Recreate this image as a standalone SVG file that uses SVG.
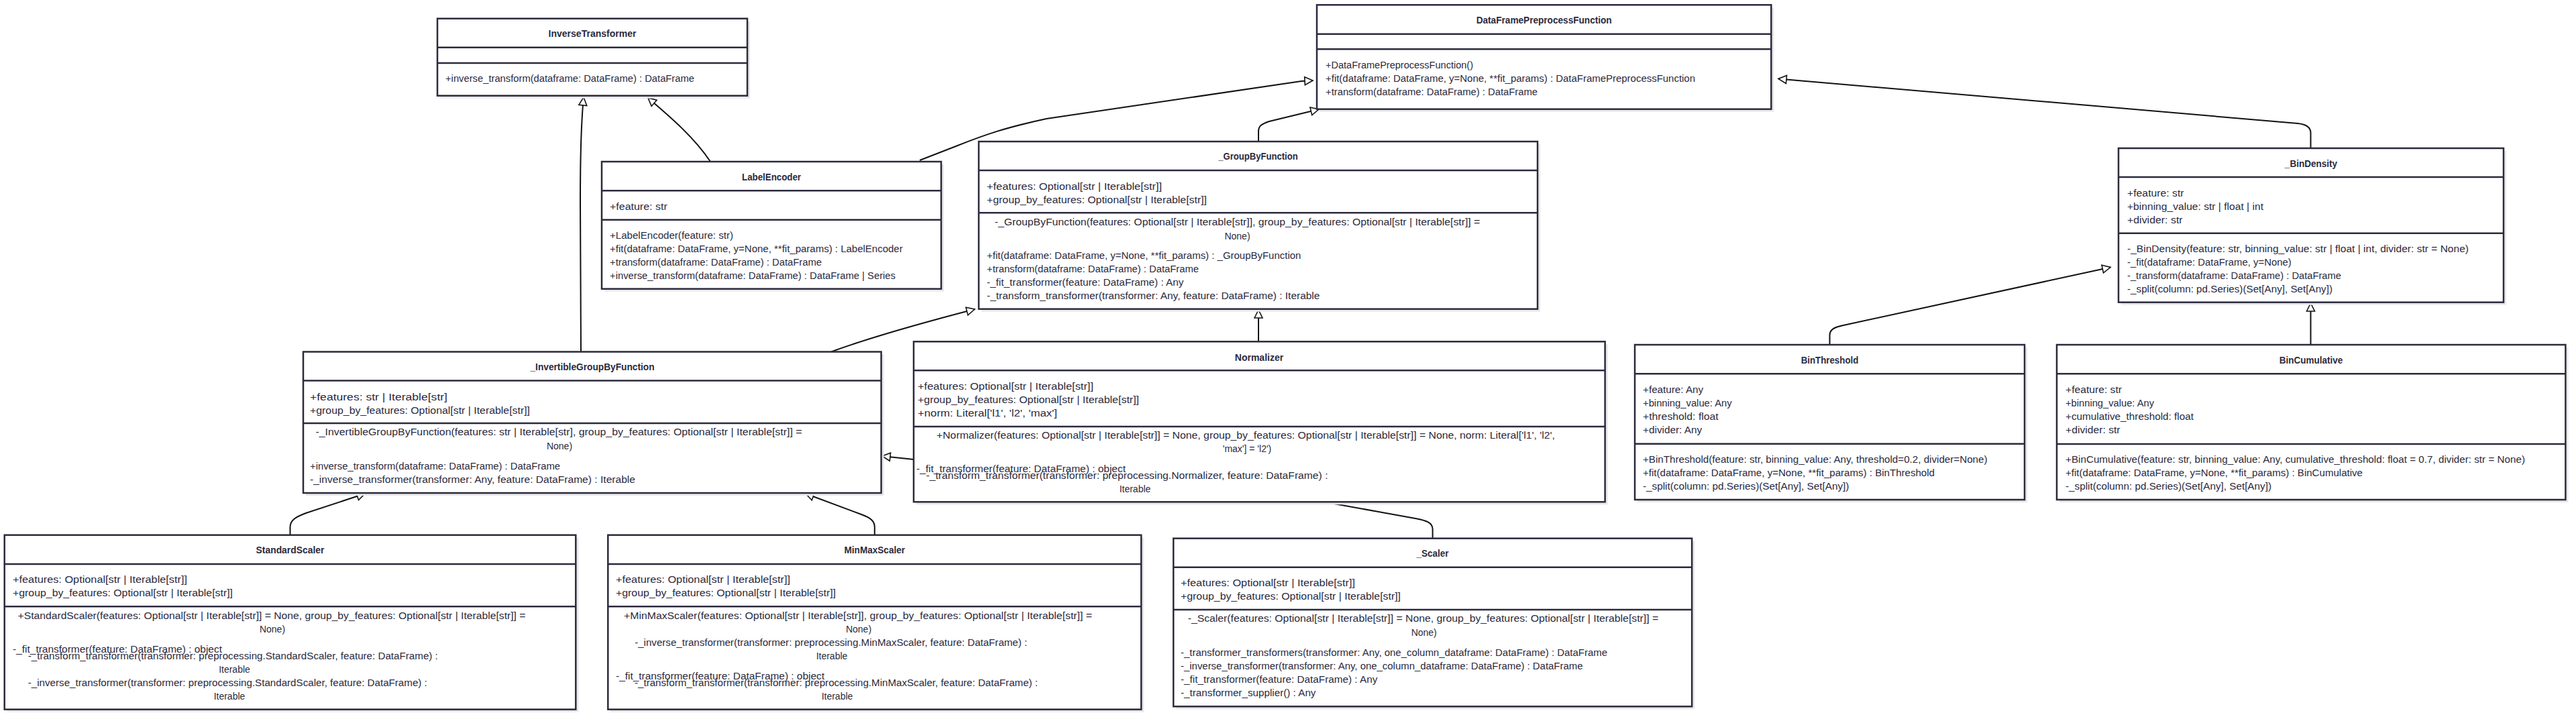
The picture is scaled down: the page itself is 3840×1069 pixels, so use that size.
<svg xmlns="http://www.w3.org/2000/svg" width="3840" height="1069" viewBox="0 0 3840 1069">
<style>
.bg{fill:#ffffff}
.sh{fill:#e8e8e8}
.bx{fill:#ffffff;stroke:#2b2a3d;stroke-width:2.5}
.dv{stroke:#2b2a3d;stroke-width:2.5}
text{font-family:"Liberation Sans",Arial,sans-serif;fill:#2b2a3d;dominant-baseline:central}
.t{font-size:14px;font-weight:bold;text-anchor:middle}
.m{font-size:14px}
.c{text-anchor:middle}
.e{fill:none;stroke:#111111;stroke-width:2}
</style>
<defs>
<marker id="tri" markerUnits="userSpaceOnUse" markerWidth="16" markerHeight="16" viewBox="0 0 16 16" refX="14" refY="8" orient="auto">
<path d="M2,2 L14,8 L2,14 Z" fill="#ffffff" stroke="#111111" stroke-width="1.6"/>
</marker>
</defs>
<rect class="bg" x="0" y="0" width="3840" height="1069"/>

<g id="connectors">
<path class="e" marker-end="url(#tri)" d="M866,524.5 L865,300 C865,210 867,175 870,145"/>
<path class="e" marker-end="url(#tri)" d="M1059,241 C1035,205 1000,175 966,146"/>
<path class="e" marker-end="url(#tri)" d="M1371,239 L1425,218 C1470,200 1500,190 1560,177 L1940,121 L1957,120"/>
<path class="e" marker-end="url(#tri)" d="M1876,211 L1876,196 C1876,188 1880,185 1892,181 L1966,163"/>
<path class="e" marker-end="url(#tri)" d="M3444.5,221 L3444.5,198 Q3444.5,186 3425,184 L2651,117.5"/>
<path class="e" marker-end="url(#tri)" d="M1239,524.5 C1300,502 1380,480 1453,461"/>
<path class="e" marker-end="url(#tri)" d="M1876,509.3 L1876,462"/>
<path class="e" marker-end="url(#tri)" d="M2727.5,514 L2727.5,500 C2727.5,492 2733,488 2748,485 L3146,398.5"/>
<path class="e" marker-end="url(#tri)" d="M3444.5,514 L3444.5,452"/>
<path class="e" marker-end="url(#tri)" d="M432.5,797.7 L432.5,786 C432.5,776 440,771 456,765 L544,736"/>
<path class="e" marker-end="url(#tri)" d="M1303.8,797.7 L1303.8,786 C1303.8,777 1298,772 1284,767 L1201,736"/>
<path class="e" marker-end="url(#tri)" d="M2135.6,802.7 L2135.6,789 C2135.6,779 2126,776 2110,773 L1972,748 C1800,716 1500,692 1362,685 L1315,680"/>
</g>

<g id="InverseTransformer">
<rect class="sh" x="656" y="31.7" width="462" height="115"/>
<rect class="bx" x="652" y="27.7" width="462" height="115"/>
<line class="dv" x1="652" y1="70.7" x2="1114" y2="70.7"/>
<line class="dv" x1="652" y1="94" x2="1114" y2="94"/>
<text class="t" x="883" y="50" textLength="131" lengthAdjust="spacingAndGlyphs">InverseTransformer</text>
<text class="m" x="664" y="117" textLength="371" lengthAdjust="spacingAndGlyphs">+inverse_transform(dataframe: DataFrame) : DataFrame</text>
</g>

<g id="DataFramePreprocessFunction">
<rect class="sh" x="1967" y="11.3" width="677.3" height="155.4"/>
<rect class="bx" x="1963" y="7.3" width="677.3" height="155.4"/>
<line class="dv" x1="1963" y1="50.7" x2="2640.3" y2="50.7"/>
<line class="dv" x1="1963" y1="73.3" x2="2640.3" y2="73.3"/>
<text class="t" x="2301.7" y="30" textLength="202" lengthAdjust="spacingAndGlyphs">DataFramePreprocessFunction</text>
<text class="m" x="1976" y="97.3" textLength="220" lengthAdjust="spacingAndGlyphs">+DataFramePreprocessFunction()</text>
<text class="m" x="1976" y="117.3" textLength="551" lengthAdjust="spacingAndGlyphs">+fit(dataframe: DataFrame, y=None, **fit_params) : DataFramePreprocessFunction</text>
<text class="m" x="1976" y="137.3" textLength="316" lengthAdjust="spacingAndGlyphs">+transform(dataframe: DataFrame) : DataFrame</text>
</g>

<g id="LabelEncoder">
<rect class="sh" x="901" y="245" width="506" height="189.7"/>
<rect class="bx" x="897" y="241" width="506" height="189.7"/>
<line class="dv" x1="897" y1="284.3" x2="1403" y2="284.3"/>
<line class="dv" x1="897" y1="327.7" x2="1403" y2="327.7"/>
<text class="t" x="1150" y="264.3" textLength="88" lengthAdjust="spacingAndGlyphs">LabelEncoder</text>
<text class="m" x="909" y="308.3" textLength="85.7" lengthAdjust="spacingAndGlyphs">+feature: str</text>
<text class="m" x="909" y="351" textLength="184" lengthAdjust="spacingAndGlyphs">+LabelEncoder(feature: str)</text>
<text class="m" x="909" y="371" textLength="436.7" lengthAdjust="spacingAndGlyphs">+fit(dataframe: DataFrame, y=None, **fit_params) : LabelEncoder</text>
<text class="m" x="909" y="391" textLength="316" lengthAdjust="spacingAndGlyphs">+transform(dataframe: DataFrame) : DataFrame</text>
<text class="m" x="909" y="411" textLength="426" lengthAdjust="spacingAndGlyphs">+inverse_transform(dataframe: DataFrame) : DataFrame | Series</text>
</g>

<g id="_GroupByFunction">
<rect class="sh" x="1463" y="215" width="833" height="249.7"/>
<rect class="bx" x="1459" y="211" width="833" height="249.7"/>
<line class="dv" x1="1459" y1="254" x2="2292" y2="254"/>
<line class="dv" x1="1459" y1="317.3" x2="2292" y2="317.3"/>
<text class="t" x="1875.5" y="233.3" textLength="118.5" lengthAdjust="spacingAndGlyphs">_GroupByFunction</text>
<text class="m" x="1471" y="277.7" textLength="261" lengthAdjust="spacingAndGlyphs">+features: Optional[str | Iterable[str]]</text>
<text class="m" x="1471" y="298.3" textLength="328" lengthAdjust="spacingAndGlyphs">+group_by_features: Optional[str | Iterable[str]]</text>
<text class="m c" x="1844.5" y="330.7" textLength="723.5" lengthAdjust="spacingAndGlyphs">-_GroupByFunction(features: Optional[str | Iterable[str]], group_by_features: Optional[str | Iterable[str]] =</text>
<text class="m c" x="1844.5" y="351.7">None)</text>
<text class="m" x="1471" y="381" textLength="468.4" lengthAdjust="spacingAndGlyphs">+fit(dataframe: DataFrame, y=None, **fit_params) : _GroupByFunction</text>
<text class="m" x="1471" y="401" textLength="316" lengthAdjust="spacingAndGlyphs">+transform(dataframe: DataFrame) : DataFrame</text>
<text class="m" x="1471" y="421" textLength="293.5" lengthAdjust="spacingAndGlyphs">-_fit_transformer(feature: DataFrame) : Any</text>
<text class="m" x="1471" y="441" textLength="496.4" lengthAdjust="spacingAndGlyphs">-_transform_transformer(transformer: Any, feature: DataFrame) : Iterable</text>
</g>

<g id="_BinDensity">
<rect class="sh" x="3162" y="225" width="574" height="229.7"/>
<rect class="bx" x="3158" y="221" width="574" height="229.7"/>
<line class="dv" x1="3158" y1="264" x2="3732" y2="264"/>
<line class="dv" x1="3158" y1="347.7" x2="3732" y2="347.7"/>
<text class="t" x="3445" y="244.3" textLength="78.3" lengthAdjust="spacingAndGlyphs">_BinDensity</text>
<text class="m" x="3171" y="288.3" textLength="84.6" lengthAdjust="spacingAndGlyphs">+feature: str</text>
<text class="m" x="3171" y="308.3" textLength="203" lengthAdjust="spacingAndGlyphs">+binning_value: str | float | int</text>
<text class="m" x="3171" y="328.3" textLength="82.6" lengthAdjust="spacingAndGlyphs">+divider: str</text>
<text class="m" x="3171" y="371" textLength="509" lengthAdjust="spacingAndGlyphs">-_BinDensity(feature: str, binning_value: str | float | int, divider: str = None)</text>
<text class="m" x="3171" y="391" textLength="244.8" lengthAdjust="spacingAndGlyphs">-_fit(dataframe: DataFrame, y=None)</text>
<text class="m" x="3171" y="411" textLength="319" lengthAdjust="spacingAndGlyphs">-_transform(dataframe: DataFrame) : DataFrame</text>
<text class="m" x="3171" y="431" textLength="306" lengthAdjust="spacingAndGlyphs">-_split(column: pd.Series)(Set[Any], Set[Any])</text>
</g>

<g id="_InvertibleGroupByFunction">
<rect class="sh" x="456" y="528.5" width="861.6" height="210.5"/>
<rect class="bx" x="452" y="524.5" width="861.6" height="210.5"/>
<line class="dv" x1="452" y1="567.5" x2="1313.6" y2="567.5"/>
<line class="dv" x1="452" y1="631" x2="1313.6" y2="631"/>
<text class="t" x="883" y="546.5" textLength="185" lengthAdjust="spacingAndGlyphs">_InvertibleGroupByFunction</text>
<text class="m" x="462" y="591.5" textLength="205" lengthAdjust="spacingAndGlyphs">+features: str | Iterable[str]</text>
<text class="m" x="462" y="611.5" textLength="328" lengthAdjust="spacingAndGlyphs">+group_by_features: Optional[str | Iterable[str]]</text>
<text class="m c" x="833" y="644.4" textLength="725" lengthAdjust="spacingAndGlyphs">-_InvertibleGroupByFunction(features: str | Iterable[str], group_by_features: Optional[str | Iterable[str]] =</text>
<text class="m c" x="834" y="665.4">None)</text>
<text class="m" x="462" y="694.7" textLength="373" lengthAdjust="spacingAndGlyphs">+inverse_transform(dataframe: DataFrame) : DataFrame</text>
<text class="m" x="462" y="714.7" textLength="485" lengthAdjust="spacingAndGlyphs">-_inverse_transformer(transformer: Any, feature: DataFrame) : Iterable</text>
</g>

<g id="Normalizer">
<rect class="sh" x="1366" y="513.3" width="1030.6" height="239"/>
<rect class="bx" x="1362" y="509.3" width="1030.6" height="239"/>
<line class="dv" x1="1362" y1="552.3" x2="2392.6" y2="552.3"/>
<line class="dv" x1="1362" y1="636" x2="2392.6" y2="636"/>
<text class="t" x="1877" y="533.3" textLength="72.3" lengthAdjust="spacingAndGlyphs">Normalizer</text>
<text class="m" x="1368" y="576.3" textLength="262" lengthAdjust="spacingAndGlyphs">+features: Optional[str | Iterable[str]]</text>
<text class="m" x="1368" y="596.3" textLength="330" lengthAdjust="spacingAndGlyphs">+group_by_features: Optional[str | Iterable[str]]</text>
<text class="m" x="1368" y="616.3" textLength="208" lengthAdjust="spacingAndGlyphs">+norm: Literal['l1', 'l2', 'max']</text>
<text class="m c" x="1857" y="649.4" textLength="922" lengthAdjust="spacingAndGlyphs">+Normalizer(features: Optional[str | Iterable[str]] = None, group_by_features: Optional[str | Iterable[str]] = None, norm: Literal['l1', 'l2',</text>
<text class="m c" x="1859" y="669.4">'max'] = 'l2')</text>
<text class="m" x="1366" y="699.4" textLength="312" lengthAdjust="spacingAndGlyphs">-_fit_transformer(feature: DataFrame) : object</text>
<text class="m c" x="1680" y="709.4" textLength="599" lengthAdjust="spacingAndGlyphs">-_transform_transformer(transformer: preprocessing.Normalizer, feature: DataFrame) :</text>
<text class="m c" x="1692" y="729.4">Iterable</text>
</g>

<g id="StandardScaler">
<rect class="sh" x="10.7" y="801.7" width="851.6" height="260"/>
<rect class="bx" x="6.7" y="797.7" width="851.6" height="260"/>
<line class="dv" x1="6.7" y1="841" x2="858.3" y2="841"/>
<line class="dv" x1="6.7" y1="904.3" x2="858.3" y2="904.3"/>
<text class="t" x="432.5" y="820" textLength="102" lengthAdjust="spacingAndGlyphs">StandardScaler</text>
<text class="m" x="19" y="864" textLength="260" lengthAdjust="spacingAndGlyphs">+features: Optional[str | Iterable[str]]</text>
<text class="m" x="19" y="884.3" textLength="328" lengthAdjust="spacingAndGlyphs">+group_by_features: Optional[str | Iterable[str]]</text>
<text class="m c" x="405" y="917.7" textLength="757" lengthAdjust="spacingAndGlyphs">+StandardScaler(features: Optional[str | Iterable[str]] = None, group_by_features: Optional[str | Iterable[str]] =</text>
<text class="m c" x="406" y="937.7">None)</text>
<text class="m" x="19" y="967.7" textLength="312" lengthAdjust="spacingAndGlyphs">-_fit_transformer(feature: DataFrame) : object</text>
<text class="m c" x="347.3" y="977.7" textLength="611" lengthAdjust="spacingAndGlyphs">-_transform_transformer(transformer: preprocessing.StandardScaler, feature: DataFrame) :</text>
<text class="m c" x="349.5" y="997.7">Iterable</text>
<text class="m c" x="339.3" y="1017.7" textLength="595" lengthAdjust="spacingAndGlyphs">-_inverse_transformer(transformer: preprocessing.StandardScaler, feature: DataFrame) :</text>
<text class="m c" x="342" y="1038">Iterable</text>
</g>

<g id="MinMaxScaler">
<rect class="sh" x="910.3" y="801.7" width="794.9" height="260"/>
<rect class="bx" x="906.3" y="797.7" width="794.9" height="260"/>
<line class="dv" x1="906.3" y1="841" x2="1701.2" y2="841"/>
<line class="dv" x1="906.3" y1="904.3" x2="1701.2" y2="904.3"/>
<text class="t" x="1303.8" y="820" textLength="90.5" lengthAdjust="spacingAndGlyphs">MinMaxScaler</text>
<text class="m" x="918" y="864" textLength="260" lengthAdjust="spacingAndGlyphs">+features: Optional[str | Iterable[str]]</text>
<text class="m" x="918" y="884.3" textLength="328" lengthAdjust="spacingAndGlyphs">+group_by_features: Optional[str | Iterable[str]]</text>
<text class="m c" x="1279" y="917.7" textLength="698" lengthAdjust="spacingAndGlyphs">+MinMaxScaler(features: Optional[str | Iterable[str]], group_by_features: Optional[str | Iterable[str]] =</text>
<text class="m c" x="1280" y="937.7">None)</text>
<text class="m c" x="1238.7" y="957.7" textLength="585" lengthAdjust="spacingAndGlyphs">-_inverse_transformer(transformer: preprocessing.MinMaxScaler, feature: DataFrame) :</text>
<text class="m c" x="1240" y="977.7">Iterable</text>
<text class="m" x="918" y="1007.7" textLength="311" lengthAdjust="spacingAndGlyphs">-_fit_transformer(feature: DataFrame) : object</text>
<text class="m c" x="1246.5" y="1017.7" textLength="601" lengthAdjust="spacingAndGlyphs">-_transform_transformer(transformer: preprocessing.MinMaxScaler, feature: DataFrame) :</text>
<text class="m c" x="1248" y="1038">Iterable</text>
</g>

<g id="_Scaler">
<rect class="sh" x="1753.2" y="806.7" width="772.9" height="250.6"/>
<rect class="bx" x="1749.2" y="802.7" width="772.9" height="250.6"/>
<line class="dv" x1="1749.2" y1="845.7" x2="2522.1" y2="845.7"/>
<line class="dv" x1="1749.2" y1="909" x2="2522.1" y2="909"/>
<text class="t" x="2135.6" y="825" textLength="48" lengthAdjust="spacingAndGlyphs">_Scaler</text>
<text class="m" x="1760" y="869" textLength="260" lengthAdjust="spacingAndGlyphs">+features: Optional[str | Iterable[str]]</text>
<text class="m" x="1760" y="889.3" textLength="328" lengthAdjust="spacingAndGlyphs">+group_by_features: Optional[str | Iterable[str]]</text>
<text class="m c" x="2121.4" y="922.4" textLength="701.5" lengthAdjust="spacingAndGlyphs">-_Scaler(features: Optional[str | Iterable[str]] = None, group_by_features: Optional[str | Iterable[str]] =</text>
<text class="m c" x="2122.7" y="942.7">None)</text>
<text class="m" x="1760" y="972.7" textLength="636" lengthAdjust="spacingAndGlyphs">-_transformer_transformers(transformer: Any, one_column_dataframe: DataFrame) : DataFrame</text>
<text class="m" x="1760" y="992.7" textLength="599.5" lengthAdjust="spacingAndGlyphs">-_inverse_transformer(transformer: Any, one_column_dataframe: DataFrame) : DataFrame</text>
<text class="m" x="1760" y="1012.7" textLength="293.4" lengthAdjust="spacingAndGlyphs">-_fit_transformer(feature: DataFrame) : Any</text>
<text class="m" x="1760" y="1033" textLength="201.5" lengthAdjust="spacingAndGlyphs">-_transformer_supplier() : Any</text>
</g>

<g id="BinThreshold">
<rect class="sh" x="2441" y="518" width="581" height="231"/>
<rect class="bx" x="2437" y="514" width="581" height="231"/>
<line class="dv" x1="2437" y1="557.3" x2="3018" y2="557.3"/>
<line class="dv" x1="2437" y1="661.7" x2="3018" y2="661.7"/>
<text class="t" x="2727.5" y="536.7" textLength="85.7" lengthAdjust="spacingAndGlyphs">BinThreshold</text>
<text class="m" x="2449" y="580.7" textLength="90.2" lengthAdjust="spacingAndGlyphs">+feature: Any</text>
<text class="m" x="2449" y="600.7" textLength="132.7" lengthAdjust="spacingAndGlyphs">+binning_value: Any</text>
<text class="m" x="2449" y="620.7" textLength="112.7" lengthAdjust="spacingAndGlyphs">+threshold: float</text>
<text class="m" x="2449" y="640.7" textLength="88.2" lengthAdjust="spacingAndGlyphs">+divider: Any</text>
<text class="m" x="2449" y="685" textLength="513.5" lengthAdjust="spacingAndGlyphs">+BinThreshold(feature: str, binning_value: Any, threshold=0.2, divider=None)</text>
<text class="m" x="2449" y="705" textLength="435" lengthAdjust="spacingAndGlyphs">+fit(dataframe: DataFrame, y=None, **fit_params) : BinThreshold</text>
<text class="m" x="2449" y="725" textLength="307.4" lengthAdjust="spacingAndGlyphs">-_split(column: pd.Series)(Set[Any], Set[Any])</text>
</g>

<g id="BinCumulative">
<rect class="sh" x="3070" y="518" width="758.4" height="231"/>
<rect class="bx" x="3066" y="514" width="758.4" height="231"/>
<line class="dv" x1="3066" y1="557.3" x2="3824.4" y2="557.3"/>
<line class="dv" x1="3066" y1="662" x2="3824.4" y2="662"/>
<text class="t" x="3445" y="536.7" textLength="94.7" lengthAdjust="spacingAndGlyphs">BinCumulative</text>
<text class="m" x="3079" y="580.7" textLength="84" lengthAdjust="spacingAndGlyphs">+feature: str</text>
<text class="m" x="3079" y="600.7" textLength="132" lengthAdjust="spacingAndGlyphs">+binning_value: Any</text>
<text class="m" x="3079" y="620.7" textLength="191" lengthAdjust="spacingAndGlyphs">+cumulative_threshold: float</text>
<text class="m" x="3079" y="640.7" textLength="81.6" lengthAdjust="spacingAndGlyphs">+divider: str</text>
<text class="m" x="3079" y="685" textLength="685" lengthAdjust="spacingAndGlyphs">+BinCumulative(feature: str, binning_value: Any, cumulative_threshold: float = 0.7, divider: str = None)</text>
<text class="m" x="3079" y="705" textLength="443" lengthAdjust="spacingAndGlyphs">+fit(dataframe: DataFrame, y=None, **fit_params) : BinCumulative</text>
<text class="m" x="3079" y="725" textLength="307" lengthAdjust="spacingAndGlyphs">-_split(column: pd.Series)(Set[Any], Set[Any])</text>
</g>
</svg>
